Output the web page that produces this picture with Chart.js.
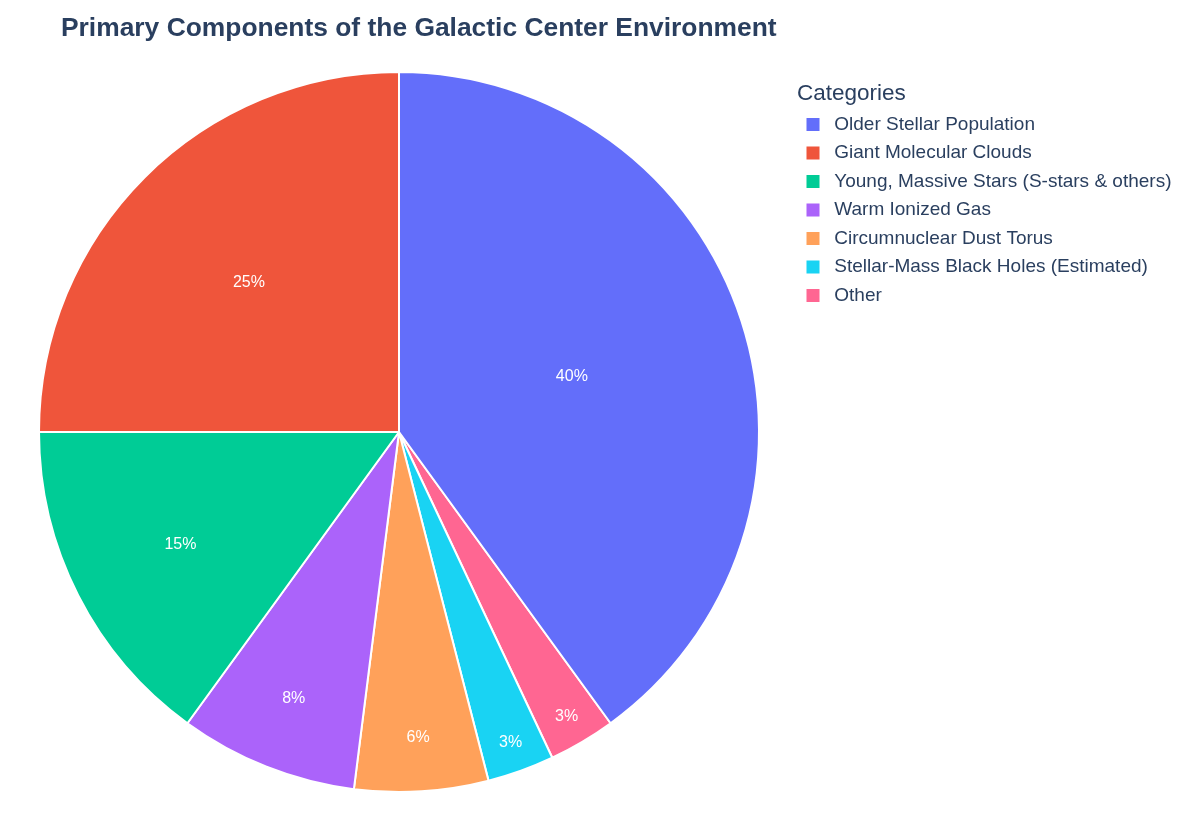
<!DOCTYPE html>
<html>
<head>
<meta charset="utf-8">
<script src="https://cdn.jsdelivr.net/npm/chart.js@4"></script>
<style>
  body { margin: 0; background: #fff; }
</style>
</head>
<body>
<canvas id="myChart" width="1200" height="840"></canvas>
<script>
const categories = ['Older Stellar Population', 'Giant Molecular Clouds', 'Young, Massive Stars (S-stars & others)', 'Warm Ionized Gas', 'Circumnuclear Dust Torus', 'Stellar-Mass Black Holes (Estimated)', 'Other'];
const shares = [40, 25, 15, 8, 6, 3, 3];
const colors = ['#636efa', '#EF553B', '#00cc96', '#ab63fa', '#FFA15A', '#19d3f3', '#FF6692'];

const FONT = '"Liberation Sans", Arial, sans-serif';
const INK = '#2a3f5f';

// plotly-style pie runs counterclockwise, Chart.js clockwise: feed reversed, show legend reversed
const total = shares.reduce((a, b) => a + b, 0);
const rotation = shares[0] / total * 360;

// put pie, legend where the reference has them
const placeBoxes = {
  id: 'placeBoxes',
  afterLayout(chart) {
    const a = chart.chartArea;
    a.left = 39; a.right = 759; a.top = 72; a.bottom = 792;
    a.width = 720; a.height = 720;
    const lg = chart.legend;
    lg.left = 797; lg.right = 797 + lg.width;
    lg.top = 72; lg.bottom = 792; lg.height = 720;
  }
};

// percentage text inside slices
const sliceLabels = {
  id: 'sliceLabels',
  afterDatasetsDraw(chart) {
    const ctx = chart.ctx;
    const meta = chart.getDatasetMeta(0);
    const vals = chart.data.datasets[0].data;
    const sum = vals.reduce((a, b) => a + b, 0);
    ctx.save();
    ctx.fillStyle = '#fff';
    ctx.font = '16px ' + FONT;
    ctx.textAlign = 'center';
    ctx.textBaseline = 'middle';
    meta.data.forEach((arc, i) => {
      const p = vals[i] / sum;
      const mid = (arc.startAngle + arc.endAngle) / 2;
      const r = arc.outerRadius * Math.min(0.915, 0.34 - 0.18 * Math.log(p));
      ctx.fillText(Math.round(p * 100) + '%', arc.x + r * Math.cos(mid), arc.y + r * Math.sin(mid) + 1);
    });
    ctx.restore();
  }
};

new Chart(document.getElementById('myChart'), {
  type: 'pie',
  data: {
    labels: categories.slice().reverse(),
    datasets: [{
      data: shares.slice().reverse(),
      backgroundColor: colors.slice().reverse(),
      borderColor: '#ffffff',
      borderWidth: 2,
      hoverOffset: 0
    }]
  },
  options: {
    responsive: false,
    animation: false,
    rotation: rotation,
    radius: 360,
    layout: { padding: { left: 61, right: 0, top: 0, bottom: 48 } },
    plugins: {
      tooltip: { enabled: false },
      title: {
        display: true,
        text: 'Primary Components of the Galactic Center Environment',
        align: 'start',
        color: INK,
        font: { family: FONT, size: 26.4, weight: 'bold' },
        padding: { top: 13, bottom: 20 }
      },
      legend: {
        position: 'right',
        align: 'start',
        reverse: true,
        title: {
          display: true,
          text: 'Categories',
          position: 'start',
          color: INK,
          font: { family: FONT, size: 22.5, lineHeight: 1 },
          padding: { top: 11, bottom: 0 }
        },
        labels: {
          color: INK,
          font: { family: FONT, size: 19 },
          boxWidth: 13,
          boxHeight: 13,
          padding: 9.5,
          generateLabels(chart) {
            const items = Chart.overrides.pie.plugins.legend.labels.generateLabels(chart);
            return items.map(it => Object.assign(it, { text: ' ' + it.text, lineWidth: 0 }));
          }
        }
      }
    }
  },
  plugins: [placeBoxes, sliceLabels]
});
</script>
</body>
</html>
